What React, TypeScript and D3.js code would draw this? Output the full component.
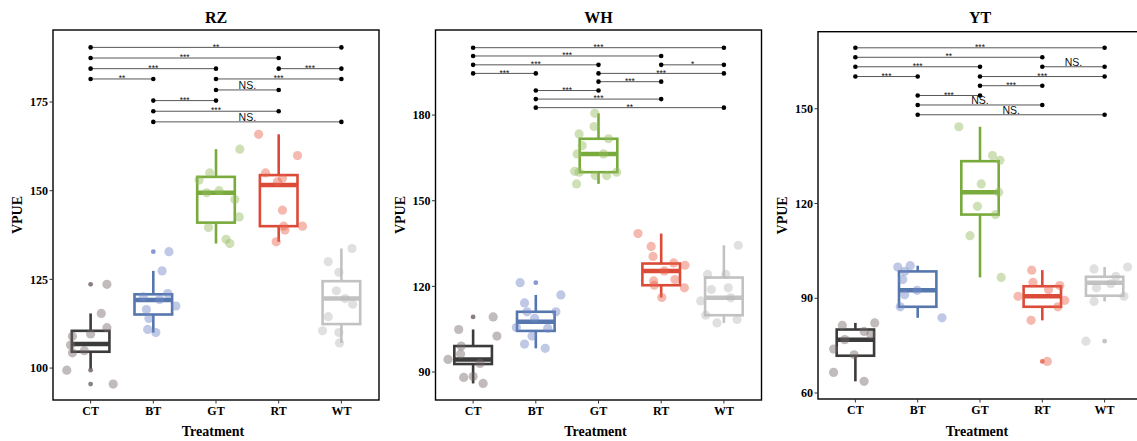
import React from "react";
import * as d3 from "d3";

const categories = ["CT", "BT", "GT", "RT", "WT"];
const panelTitles = ["RZ", "WH", "YT"];
const boxColors = ["#3b3b3b", "#5677ae", "#78aa3c", "#dc4a38", "#c2c2c2"];
const pointColors = ["#766868", "#7088c8", "#94bb60", "#e8644e", "#bbbbbb"];

// box summaries: [lower whisker, Q1, median, Q3, upper whisker]
const rzBoxes = [
  [99.6, 104.6, 106.8, 110.5, 115.4],
  [110.0, 115.1, 119.2, 120.8, 127.4],
  [135.1, 141.0, 149.4, 153.9, 161.7],
  [135.6, 140.0, 151.6, 154.4, 165.9],
  [107.1, 112.4, 119.6, 124.5, 133.7],
];
const whBoxes = [
  [86.0, 92.8, 94.4, 99.1, 104.9],
  [98.3, 104.4, 107.6, 111.1, 117.0],
  [155.9, 160.0, 166.4, 171.7, 180.6],
  [116.1, 120.4, 125.4, 128.0, 138.5],
  [107.2, 109.9, 116.0, 123.1, 134.4],
];
const ytBoxes = [
  [63.7, 71.8, 76.9, 80.1, 82.2],
  [83.8, 87.3, 92.5, 98.5, 100.3],
  [96.6, 116.5, 123.6, 133.4, 144.3],
  [83.0, 87.3, 90.6, 93.8, 98.9],
  [89.0, 90.8, 94.9, 96.8, 99.9],
];

// observations: [value, jitter offset in category steps]
const rzPoints = [
  [[99.4, -0.38], [109.0, -0.29], [106.5, -0.32], [104.3, -0.29], [104.9, -0.1], [109.6, 0], [115.4, 0.17], [123.6, 0.26], [111.4, 0.26], [95.5, 0.36]],
  [[132.8, 0.25], [127.4, 0.14], [116.5, -0.11], [114.0, -0.07], [110.9, -0.09], [110.0, 0.04], [120.1, -0.16], [121.0, 0.23], [117.5, 0.36], [119.3, 0.1]],
  [[161.7, 0.38], [155.0, -0.1], [153.0, -0.27], [149.4, -0.15], [147.5, 0.3], [142.6, 0.37], [139.6, -0.12], [136.3, 0.16], [135.1, 0.22], [150.0, 0.05]],
  [[165.9, -0.32], [159.9, 0.3], [155.0, -0.21], [153.5, 0.06], [152.5, -0.02], [144.5, 0.06], [140.0, 0.08], [138.9, 0.1], [140.0, 0.38], [135.6, -0.04]],
  [[133.7, 0.17], [130.0, -0.21], [127.0, -0.04], [121.8, -0.08], [119.6, 0.06], [118.0, 0.18], [114.5, -0.21], [110.5, -0.3], [110.0, -0.04], [107.1, -0.03]],
];
const whPoints = [
  [[94.4, -0.4], [104.9, -0.23], [99.1, -0.19], [96.3, -0.2], [88.1, -0.15], [93.0, 0.11], [86.0, 0.16], [109.3, 0.32], [102.6, 0.38], [88.4, 0]],
  [[121.3, -0.25], [117.0, 0.4], [114.2, -0.18], [111.1, -0.14], [111.1, 0.32], [105.6, -0.31], [108.8, -0.02], [102.6, -0.06], [99.8, -0.18], [98.3, 0.15], [105.3, 0.19]],
  [[180.6, -0.06], [176.0, -0.07], [173.4, -0.31], [171.7, 0.16], [169.3, -0.26], [166.4, -0.34], [166.4, 0.08], [160.3, -0.38], [160.0, -0.31], [158.8, -0.05], [158.8, 0.13], [160.0, 0.29], [155.9, -0.35]],
  [[138.5, -0.37], [134.0, -0.16], [130.5, -0.13], [128.2, 0.2], [127.4, 0.38], [121.9, -0.12], [120.4, -0.11], [122.4, 0.22], [119.5, 0.37], [116.1, 0.01], [125.4, 0.05]],
  [[134.4, 0.23], [124.2, -0.26], [124.2, 0.03], [118.9, -0.2], [119.5, 0.07], [114.9, -0.37], [116.0, 0.11], [109.9, -0.29], [107.2, -0.11], [108.4, 0.21]],
];
const ytPoints = [
  [[81.4, -0.21], [82.2, 0.31], [73.9, -0.35], [66.5, -0.35], [72.1, -0.02], [63.7, 0.14], [76.9, -0.17], [79.5, 0.14], [78.5, 0.25]],
  [[99.9, -0.32], [100.3, -0.12], [98.5, -0.21], [95.9, -0.24], [91.1, -0.21], [92.5, -0.01], [87.3, -0.28], [83.8, 0.39]],
  [[144.3, -0.34], [135.2, 0.2], [133.7, 0.32], [126.2, 0.02], [123.6, 0.3], [119.1, -0.04], [116.5, 0.25], [109.8, -0.16], [96.6, 0.34]],
  [[98.9, -0.17], [95.0, -0.15], [94.0, 0.28], [92.7, 0.1], [90.6, -0.39], [89.3, 0.36], [87.3, 0.25], [83.0, -0.18], [70.0, 0.08]],
  [[99.3, -0.17], [99.9, 0.37], [96.9, 0.18], [93.3, -0.13], [94.6, 0.1], [90.6, 0.31], [89.0, -0.17], [76.4, -0.3]],
];

// pairwise comparisons (category indices), same order for every panel
const comparePairs = [
  [0, 4], [0, 3], [0, 2], [3, 4], [0, 1], [2, 4], [2, 3], [1, 2], [1, 3], [1, 4],
];
const rzSigY = [190.4, 187.4, 184.4, 184.4, 181.5, 181.5, 178.4, 175.4, 172.4, 169.4];
const whSigY = [203.6, 200.7, 197.6, 197.6, 194.6, 194.6, 191.7, 188.6, 185.6, 182.6];
const ytSigY = [169.3, 166.3, 163.3, 163.3, 160.2, 160.2, 157.3, 154.2, 151.2, 148.1];
const rzSigLabels = ["**", "***", "***", "***", "**", "***", "NS.", "***", "***", "NS."];
const whSigLabels = ["***", "***", "***", "*", "***", "***", "***", "***", "***", "**"];
const ytSigLabels = ["***", "**", "***", "NS.", "***", "***", "***", "***", "NS.", "NS."];

const rzTicks = [100, 125, 150, 175];
const whTicks = [90, 120, 150, 180];
const ytTicks = [60, 90, 120, 150];
const rzDomain = [91, 195.3];
const whDomain = [80.2, 209.8];
const ytDomain = [58.1, 174.4];

const panels = [
  { title: panelTitles[0], boxes: rzBoxes, points: rzPoints, sigY: rzSigY, sigLabels: rzSigLabels, ticks: rzTicks, domain: rzDomain, left: 53, right: 379, top: 30, bottom: 400 },
  { title: panelTitles[1], boxes: whBoxes, points: whPoints, sigY: whSigY, sigLabels: whSigLabels, ticks: whTicks, domain: whDomain, left: 435.5, right: 761.5, top: 30, bottom: 400 },
  { title: panelTitles[2], boxes: ytBoxes, points: ytPoints, sigY: ytSigY, sigLabels: ytSigLabels, ticks: ytTicks, domain: ytDomain, left: 818, right: 1142, top: 31.7, bottom: 399 },
];

const serif = "'Liberation Serif', 'Times New Roman', serif";
const sans = "'Liberation Sans', Arial, sans-serif";

function Panel({ p }: { p: any }) {
  const x = d3.scalePoint<string>().domain(categories).range([p.left, p.right]).padding(0.6);
  const y = d3.scaleLinear().domain(p.domain).range([p.bottom, p.top]);
  const step = x.step();
  const bw = step * 0.6;
  const cx = (p.left + p.right) / 2;
  return (
    <g>
      <text x={cx} y={23} textAnchor="middle" fontFamily={serif} fontWeight="bold" fontSize={16}>{p.title}</text>
      {categories.map((c, i) => {
        const [lo, q1, med, q3, hi] = p.boxes[i];
        const xc = x(c)!;
        return (
          <g key={c} stroke={boxColors[i]} fill="none" strokeWidth={2.6}>
            <line x1={xc} x2={xc} y1={y(hi)} y2={y(q3)} />
            <line x1={xc} x2={xc} y1={y(q1)} y2={y(lo)} />
            <rect x={xc - bw / 2} y={y(q3)} width={bw} height={y(q1) - y(q3)} />
            <line x1={xc - bw / 2} x2={xc + bw / 2} y1={y(med)} y2={y(med)} strokeWidth={4.5} />
          </g>
        );
      })}
      {categories.map((c, i) => {
        const [lo, , , , hi] = p.boxes[i];
        return p.points[i]
          .filter((d: number[]) => d[0] > hi + 0.05 || d[0] < lo - 0.05)
          .map((d: number[], k: number) => (
            <circle key={c + "o" + k} cx={x(c)!} cy={y(d[0])} r={2.4} fill={pointColors[i]} opacity={0.85} />
          ));
      })}
      {categories.map((c, i) =>
        p.points[i].map((d: number[], k: number) => (
          <circle key={c + "p" + k} cx={x(c)! + d[1] * step} cy={y(d[0])} r={4.6} fill={pointColors[i]} opacity={0.45} />
        ))
      )}
      {comparePairs.map((pr, k) => {
        const x1 = x(categories[pr[0]])!;
        const x2 = x(categories[pr[1]])!;
        const yy = y(p.sigY[k]);
        const lab = p.sigLabels[k];
        const isNS = lab === "NS.";
        return (
          <g key={"s" + k}>
            <line x1={x1} x2={x2} y1={yy} y2={yy} stroke="#444" strokeWidth={0.9} />
            <circle cx={x1} cy={yy} r={2.3} fill="#000" />
            <circle cx={x2} cy={yy} r={2.3} fill="#000" />
            <text x={(x1 + x2) / 2} y={isNS ? yy - 0.8 : yy + 2.2} textAnchor="middle" fontFamily={sans} fontSize={isNS ? 10.5 : 8.5} fill="#111">{lab}</text>
          </g>
        );
      })}
      <rect x={p.left} y={p.top} width={p.right - p.left} height={p.bottom - p.top} fill="none" stroke="#000" strokeWidth={1.4} />
      {p.ticks.map((t: number) => (
        <g key={"t" + t}>
          <line x1={p.left - 3.5} x2={p.left} y1={y(t)} y2={y(t)} stroke="#333" strokeWidth={1} />
          <text x={p.left - 5} y={y(t)} dy="0.35em" textAnchor="end" fontFamily={serif} fontWeight="bold" fontSize={12}>{t}</text>
        </g>
      ))}
      {categories.map((c) => (
        <g key={"x" + c}>
          <line x1={x(c)!} x2={x(c)!} y1={p.bottom} y2={p.bottom + 3.5} stroke="#333" strokeWidth={1} />
          <text x={x(c)!} y={p.bottom + 14.5} textAnchor="middle" fontFamily={serif} fontWeight="bold" fontSize={12}>{c}</text>
        </g>
      ))}
      <text x={cx - 3} y={436} textAnchor="middle" fontFamily={serif} fontWeight="bold" fontSize={14}>Treatment</text>
      <text transform={`translate(${p.left - 31},${(p.top + p.bottom) / 2}) rotate(-90)`} textAnchor="middle" fontFamily={serif} fontWeight="bold" fontSize={14}>VPUE</text>
    </g>
  );
}

export default function App() {
  return (
    <svg width={1137} height={441} style={{ position: "absolute", left: 0, top: 0, background: "#fff" }}>
      <rect x={0} y={0} width={1137} height={441} fill="#fff" />
      {panels.map((p) => (
        <Panel key={p.title} p={p} />
      ))}
    </svg>
  );
}
